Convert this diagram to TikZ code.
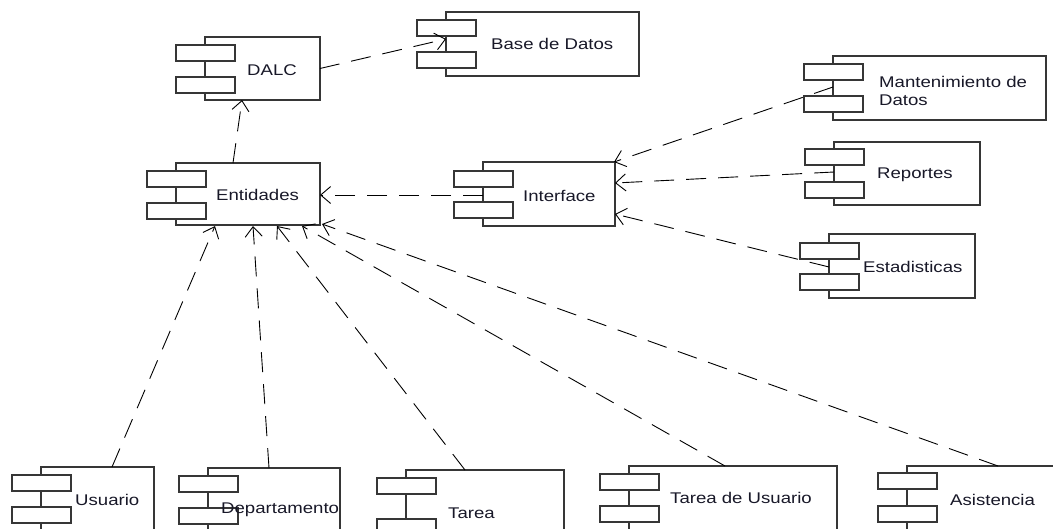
\documentclass[tikz,border=0pt]{standalone}
\usepackage{fontspec}
\setmainfont[FakeStretch=1.2]{Liberation Sans}
\usetikzlibrary{arrows.meta}
\definecolor{boxc}{HTML}{363636}
\definecolor{txtc}{HTML}{181828}
\tikzset{
  body/.style={draw=boxc, line width=1.5pt, fill=white, inner sep=0pt, outer sep=0pt, anchor=north west},
  tabst/.style={draw=boxc, line width=1.5pt, fill=white},
  lbl/.style={anchor=west, inner sep=0pt, text=txtc, font=\fontsize{15.5}{18}\selectfont, align=left},
  uses/.style={draw=black, line width=0.9pt, dash pattern=on 20pt off 12pt,
    -{Straight Barb[length=10pt,width=17pt,line width=0.9pt]}}
}
% component symbol: name, left, top, right, bottom, top of first tab, top of second tab
\newcommand\umlcomp[7]{%
  \node[body, minimum width={#4pt-#2pt}, minimum height={#5pt-#3pt}] (#1) at (#2,#3) {};
  \draw[tabst] (#2-29,#6) rectangle (#2+30,#6+16);
  \draw[tabst] (#2-29,#7) rectangle (#2+30,#7+16);
}
\begin{document}
\begin{tikzpicture}[x=1pt,y=-1pt]
\useasboundingbox (0,0) rectangle (1053,528);
\clip (0,0) rectangle (1053,528);
\fill[white] (0,0) rectangle (1053,528);

% upper components
\umlcomp{dalc}{205}{37}{320}{100}{45}{77}
\node[lbl] (dalc-t) at (247,70) {DALC};
\umlcomp{base}{446}{12}{639}{76}{20}{52}
\node[lbl] (base-t) at (491,44) {Base de Datos};
\umlcomp{ent}{176}{163}{320}{225}{171}{203}
\draw[boxc, line width=2.8pt] (ent.north east) -- (ent.south east);
\node[lbl] (ent-t) at (216,195) {Entidades};
\umlcomp{intf}{483}{162}{615}{226}{171}{202}
\node[lbl] (intf-t) at (523,196) {Interface};

% right column
\umlcomp{mant}{833}{56}{1046}{120}{64}{96}
\node[lbl] (mant-t) at (879,91) {Mantenimiento de\\Datos};
\umlcomp{rep}{834}{142}{980}{205}{149}{182}
\node[lbl] (rep-t) at (877,175) {Reportes};
\umlcomp{est}{829}{234}{975}{298}{243}{274}
\node[lbl] (est-t) at (863,267) {Estadisticas};

% bottom row
\umlcomp{usu}{41}{467}{154}{560}{475}{507}
\node[lbl] (usu-t) at (75,500) {Usuario};
\umlcomp{depto}{208}{468}{340}{560}{476}{508}
\node[lbl] (depto-t) at (221,510) {Departamento};
\umlcomp{tar}{406}{470}{564}{560}{478}{519}
\node[lbl] (tar-t) at (448,513) {Tarea};
\umlcomp{tdu}{629}{466}{837}{560}{474}{506}
\node[lbl] (tdu-t) at (670,498) {Tarea de Usuario};
\umlcomp{asi}{907}{466}{1080}{560}{473}{506}
\node[lbl] (asi-t) at (950,500) {Asistencia};

% dependencies
\draw[uses] (dalc.east) -- ([yshift=5pt]base.west);
\draw[uses] ([xshift=57pt]ent.north west) -- ([xshift=37pt]dalc.south west);
\draw[uses] ([yshift=-1pt]intf.west) -- ([yshift=-1pt]ent.east);
\draw[uses] ([yshift=-31pt]mant.north west) -- ([xshift=-1pt]intf.north east);
\draw[uses] ([yshift=-30pt]rep.north west) -- ([yshift=-21pt]intf.north east);
\draw[uses] ([yshift=-33pt]est.north west) -- ([yshift=12pt]intf.south east);
\draw[uses] ([xshift=71pt]usu.north west) -- ([xshift=39pt,yshift=-1pt]ent.south west);
\draw[uses] ([xshift=61pt]depto.north west) -- ([xshift=77pt,yshift=-1pt]ent.south west);
\draw[uses] ([xshift=59pt]tar.north west) -- ([xshift=101pt,yshift=-1pt]ent.south west);
\draw[uses] ([xshift=96pt]tdu.north west) -- ([xshift=126pt,yshift=-1pt]ent.south west);
\draw[uses] ([xshift=91pt]asi.north west) -- ([xshift=2pt,yshift=1pt]ent.south east);
\end{tikzpicture}
\end{document}
